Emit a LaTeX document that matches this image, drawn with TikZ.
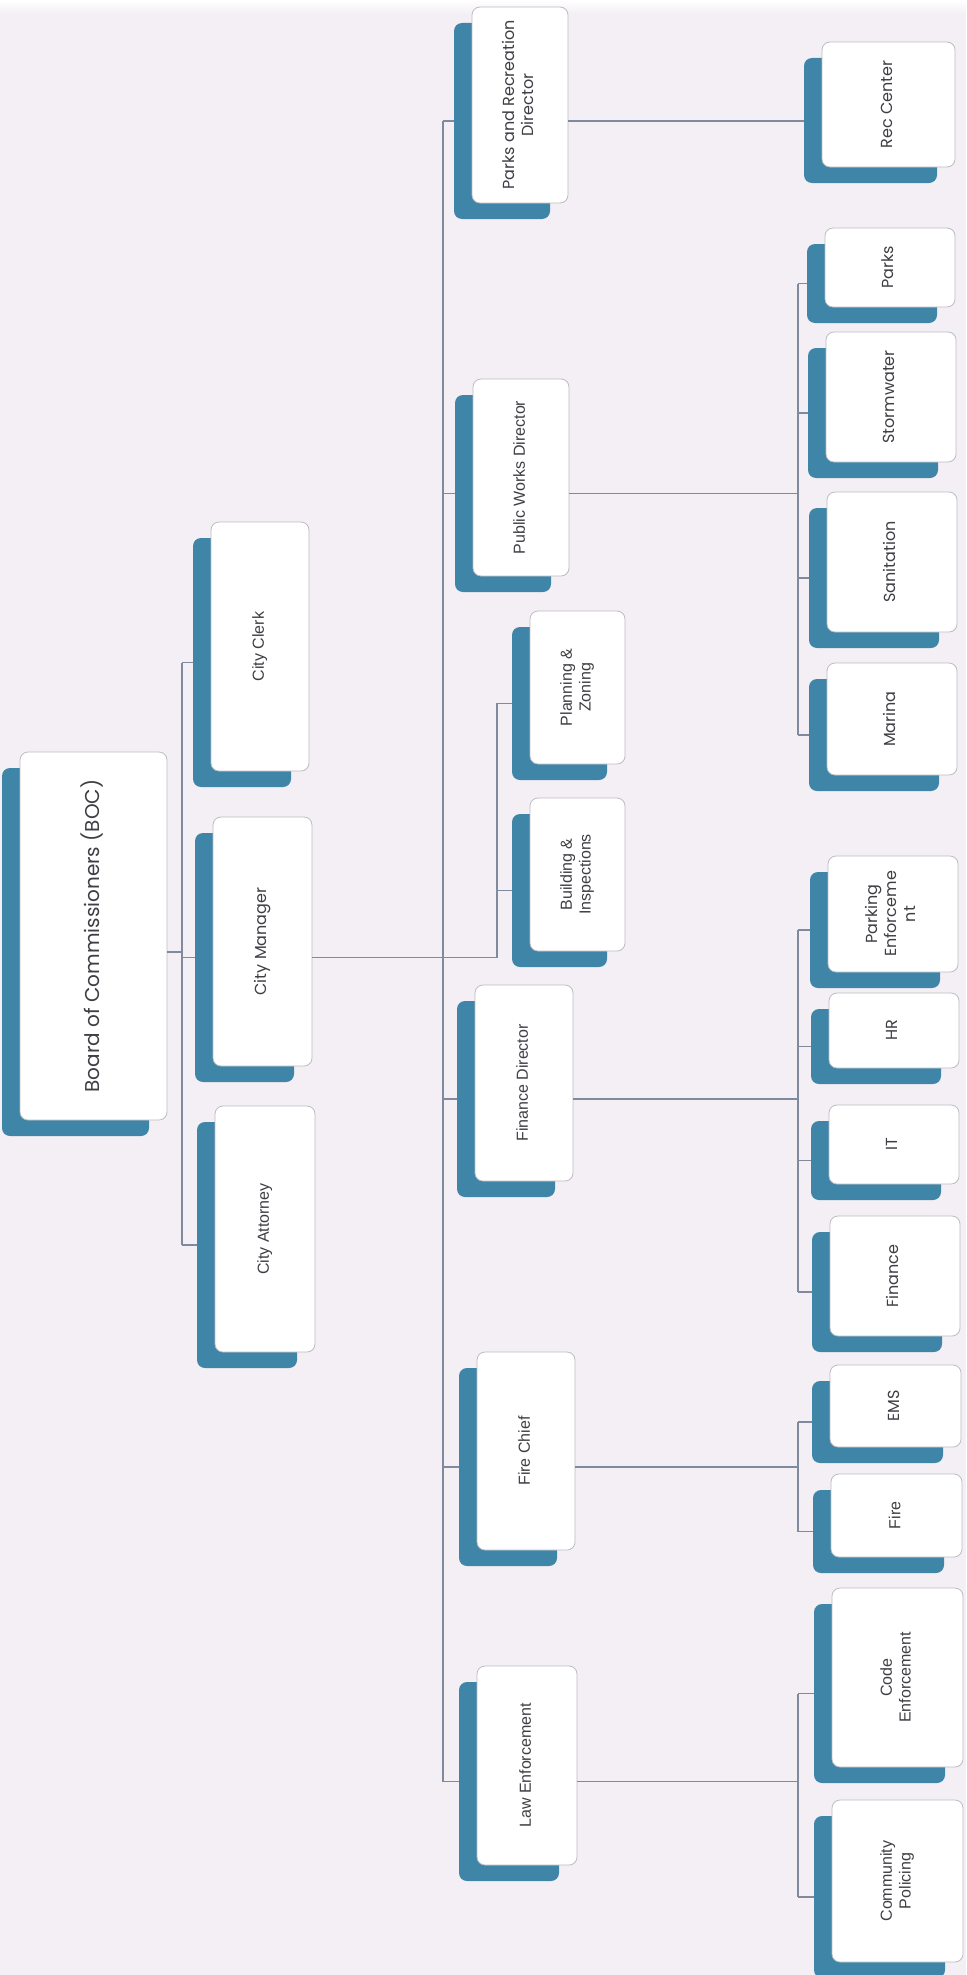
\documentclass[tikz,border=0pt]{standalone}
\usepackage{fontspec}
\setmainfont{Liberation Sans}
\newfontfamily\gothic{Poppins}

\definecolor{paper}{RGB}{243,239,244}
\definecolor{steel}{RGB}{62,133,168}
\definecolor{wire}{RGB}{128,138,158}
\definecolor{rim}{RGB}{188,188,194}
\definecolor{ink}{RGB}{62,62,68}

\tikzset{
  backing/.style={fill=steel, draw=none, rounded corners=4pt, inner sep=0pt, outer sep=0pt},
  card/.style={fill=white, draw=rim, line width=0.4pt, rounded corners=4pt,
    inner sep=0pt, outer sep=0pt, text=ink, font=\fontsize{8}{9.4}\selectfont},
  bigcard/.style={card, font=\fontsize{10}{12}\selectfont},
  link/.style={draw=wire, line width=0.6pt},
}

% a card with its blue backing plate; #1 name, #2..#5 corners, #6 style, #7 label
\newcommand\orgbox[7]{%
  \pgfmathsetmacro\cx{(#2+#4)/2}\pgfmathsetmacro\cy{(#3+#5)/2}%
  \pgfmathsetmacro\bw{(#4-#2)/2}\pgfmathsetmacro\bh{(#5-#3)/2}%
  \node[backing, minimum width=\bw pt, minimum height=\bh pt] (#1-s) at (\cx-18,\cy+16) {};
  \node[#6, minimum width=\bw pt, minimum height=\bh pt] (#1) at (\cx,\cy)
    {\rotatebox{90}{\begin{tabular}{@{}c@{}}#7\end{tabular}}};
}

\begin{document}
\begin{tikzpicture}[x=0.5pt, y=-0.5pt]
  \fill[paper] (0,0) rectangle (966,1975);
  \useasboundingbox (0,0) rectangle (966,1975);
  \shade[top color=white, bottom color=paper] (0,0) rectangle (966,14);

  % board and its direct reports
  \orgbox{boc}{20}{752}{167}{1120}{bigcard}{\gothic Board of Commissioners (BOC)}
  \orgbox{clerk}{211}{522}{309}{771}{card}{City Clerk}
  \orgbox{manager}{213}{817}{312}{1066}{card}{\gothic City Manager}
  \orgbox{attorney}{215}{1106}{315}{1352}{card}{City Attorney}

  % directors
  \orgbox{prd}{472}{7}{568}{203}{card}{\gothic Parks and Recreation\\\gothic Director}
  \orgbox{pwd}{473}{379}{569}{576}{card}{Public Works Director}
  \orgbox{pz}{530}{611}{625}{764}{card}{Planning \&\\Zoning}
  \orgbox{bi}{530}{798}{625}{951}{card}{Building \&\\Inspections}
  \orgbox{fd}{475}{985}{573}{1181}{card}{Finance Director}
  \orgbox{fc}{477}{1352}{575}{1550}{card}{Fire Chief}
  \orgbox{le}{477}{1666}{577}{1865}{card}{Law Enforcement}

  % divisions
  \orgbox{rec}{822}{42}{955}{167}{card}{\gothic Rec Center}
  \orgbox{parks}{825}{228}{955}{307}{card}{\gothic Parks}
  \orgbox{storm}{826}{332}{956}{462}{card}{\gothic Stormwater}
  \orgbox{sanit}{827}{492}{957}{632}{card}{\gothic Sanitation}
  \orgbox{marina}{827}{663}{957}{775}{card}{\gothic Marina}
  \orgbox{parking}{828}{856}{958}{972}{card}{\gothic Parking\\\gothic Enforceme\\\gothic nt}
  \orgbox{hr}{829}{993}{959}{1068}{card}{\gothic HR}
  \orgbox{it}{829}{1105}{959}{1184}{card}{\gothic IT}
  \orgbox{fin}{830}{1216}{960}{1336}{card}{\gothic Finance}
  \orgbox{ems}{830}{1365}{961}{1447}{card}{\gothic EMS}
  \orgbox{fire}{831}{1474}{962}{1557}{card}{Fire}
  \orgbox{code}{832}{1588}{963}{1767}{card}{Code\\Enforcement}
  \orgbox{cp}{832}{1800}{963}{1962}{card}{Community\\Policing}

  % trunk positions of the connector buses
  \coordinate (busA) at (182,0);
  \coordinate (busB) at (443,0);
  \coordinate (busC) at (497,0);
  \coordinate (busD) at (798,0);

  % board to its staff
  \draw[link] (boc.east |- boc-s.center) -- (busA |- boc-s.center);
  \draw[link] (busA |- clerk-s.center) -- (busA |- attorney-s.center);
  \foreach \n in {clerk, manager, attorney}
    \draw[link] (busA |- \n-s.center) -- (\n-s.west);

  % city manager to directors
  \draw[link] (manager.east |- manager-s.center) -- (busC |- manager-s.center)
              -- (busC |- pz-s.center) -- (pz-s.west);
  \draw[link] (busC |- bi-s.center) -- (bi-s.west);
  \draw[link] (busB |- prd-s.center) -- (busB |- le-s.center);
  \foreach \n in {prd, pwd, fd, fc, le}
    \draw[link] (busB |- \n-s.center) -- (\n-s.west);

  % parks and recreation
  \draw[link] (prd.east |- prd-s.center) -- (rec-s.west |- prd-s.center);

  % public works
  \draw[link] (pwd.east |- pwd-s.center) -- (busD |- pwd-s.center);
  \draw[link] (busD |- parks-s.center) -- (busD |- marina-s.center);
  \foreach \n in {parks, storm, sanit, marina}
    \draw[link] (busD |- \n-s.center) -- (\n-s.west);

  % finance
  \draw[link] (fd.east |- fd-s.center) -- (busD |- fd-s.center);
  \draw[link] (busD |- parking-s.center) -- (busD |- fin-s.center);
  \foreach \n in {parking, hr, it, fin}
    \draw[link] (busD |- \n-s.center) -- (\n-s.west);

  % fire
  \draw[link] (fc.east |- fc-s.center) -- (busD |- fc-s.center);
  \draw[link] (busD |- ems-s.center) -- (busD |- fire-s.center);
  \foreach \n in {ems, fire}
    \draw[link] (busD |- \n-s.center) -- (\n-s.west);

  % law enforcement
  \draw[link] (le.east |- le-s.center) -- (busD |- le-s.center);
  \draw[link] (busD |- code-s.center) -- (busD |- cp-s.center);
  \foreach \n in {code, cp}
    \draw[link] (busD |- \n-s.center) -- (\n-s.west);
\end{tikzpicture}
\end{document}
